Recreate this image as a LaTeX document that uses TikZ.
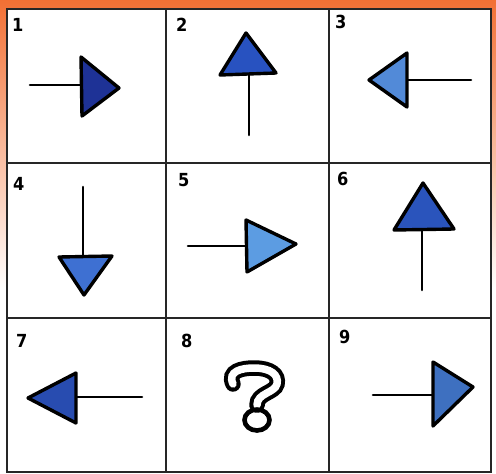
\documentclass[tikz,border=0pt]{standalone}
\usepackage{fontspec}
\newfontfamily\numfont{DejaVu Sans Condensed}
\usepackage{tikz}
\usetikzlibrary{calc}
\definecolor{bgorange}{RGB}{242,112,52}
\definecolor{bA}{RGB}{30,50,150}
\definecolor{bB}{RGB}{40,82,192}
\definecolor{bC}{RGB}{82,138,216}
\definecolor{bD}{RGB}{62,112,210}
\definecolor{bE}{RGB}{92,156,226}
\definecolor{bF}{RGB}{42,84,188}
\definecolor{bG}{RGB}{40,76,176}
\definecolor{bI}{RGB}{62,112,192}
\tikzset{
  gridline/.style={draw=black!85,line width=1.6pt},
  num/.style    ={font=\numfont\bfseries\fontsize{18}{18}\selectfont,anchor=north west,inner sep=0pt},
  shaft/.style  ={line width=2.6pt,line cap=round},
  tri/.style    ={draw,line width=3.4pt,line join=round},
  qhook/.style  ={line width=4pt,double=white,double distance=7.5pt,line cap=round},
  qdot/.style   ={line width=4.6pt},
}

\begin{document}
\begin{tikzpicture}[x=1pt,y={(0,-1pt)}]
  \useasboundingbox (0,0) rectangle (496,474);
  \shade[top color=bgorange,bottom color=white] (0,0) rectangle (496,290);
  \fill[white] (0,290) rectangle (496,474);
  \fill[white] (7,9) rectangle (491,472);
  \draw[gridline] (7,9) rectangle (491,472);
  \draw[gridline] (166,9)--(166,472) (329,9)--(329,472) (7,163)--(491,163) (7,318)--(491,318);
  % cell numbers
  \node[num](n1) at (12,18){1};  \node[num](n2) at (176,18){2};  \node[num](n3) at (335,15){3};
  \node[num](n4) at (13,177){4}; \node[num](n5) at (178,173){5}; \node[num](n6) at (337,172){6};
  \node[num](n7) at (16,334){7}; \node[num](n8) at (181,334){8}; \node[num](n9) at (339,330){9};
  % arrows
  \draw[shaft](30,85)--(81,85);    \draw[tri,fill=bA](81,57)--(119,88)--(82,116)--cycle;
  \draw[shaft](249,75)--(249,135); \draw[tri,fill=bB](246,33)--(276,73)--(220,75)--cycle;
  \draw[shaft](407,80)--(471,80);  \draw[tri,fill=bC](369,80)--(407,53)--(407,107)--cycle;
  \draw[shaft](83,187)--(83,257);  \draw[tri,fill=bD](59,257)--(112,256)--(84,295)--cycle;
  \draw[shaft](188,246)--(246,246);\draw[tri,fill=bE](246,220)--(296,244)--(247,272)--cycle;
  \draw[shaft](422,230)--(422,290);\draw[tri,fill=bF](423,183)--(454,229)--(394,230)--cycle;
  \draw[shaft](76,397)--(142,397); \draw[tri,fill=bG](28,398)--(76,373)--(76,423)--cycle;
  \draw[shaft](373,395)--(433,395);\draw[tri,fill=bI](433,362)--(473,387)--(433,426)--cycle;
  % question mark
  \draw[qhook](233,384) .. controls (227,371) and (242,368) .. (254,368) .. controls (271,368) and (279,375) .. (277,384) .. controls (275,393) and (257,393) .. (257,405);
  \draw[qdot](257,420) ellipse[x radius=12.5,y radius=10.5];
\end{tikzpicture}
\end{document}
